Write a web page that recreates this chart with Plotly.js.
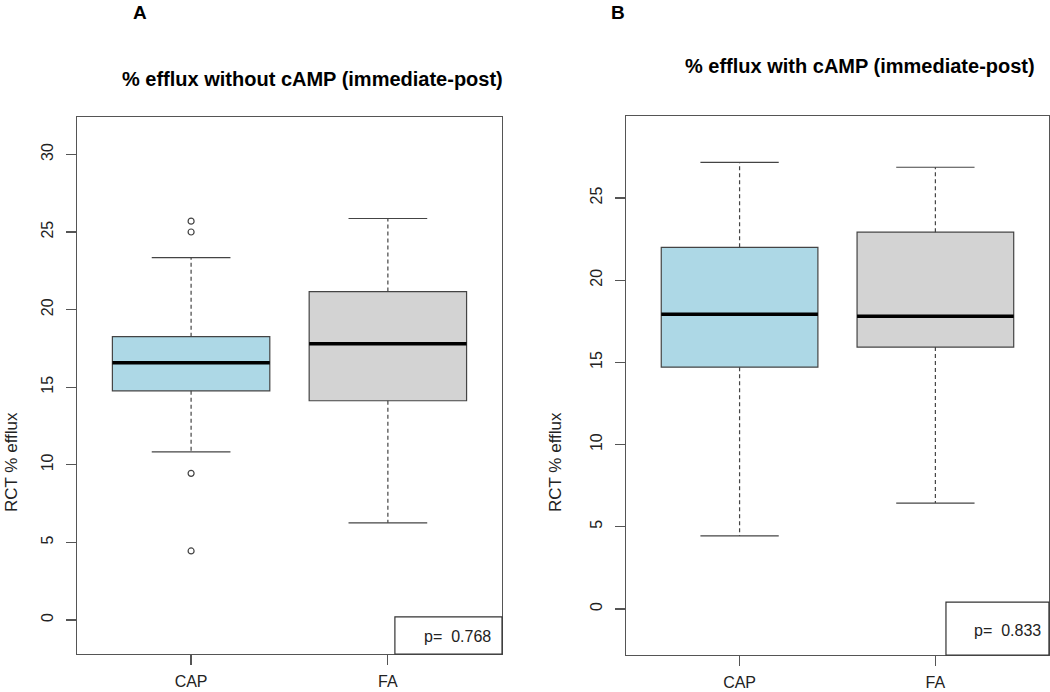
<!DOCTYPE html>
<html>
<head>
<meta charset="utf-8">
<script src="https://cdn.plot.ly/plotly-3.0.1.min.js"></script>
<style>
  html, body { margin: 0; padding: 0; background: #fff; }
  #chart { width: 1050px; height: 692px; }
</style>
</head>
<body>
<div id="chart"></div>
<script>
// groups on the x axis
var groups = ['CAP', 'FA'];
var groupPos = [1, 2];
var boxColors = ['#ADD8E6', '#D3D3D3'];

// panel A: % efflux without cAMP
var noCampQ1 = [14.77, 14.13];
var noCampMed = [16.58, 17.80];
var noCampQ3 = [18.26, 21.16];
var noCampLo = [10.84, 6.26];
var noCampHi = [23.35, 25.87];
var noCampOutCap = [25.7, 25.0, 9.45, 4.45];

// panel B: % efflux with cAMP
var campQ1 = [14.71, 15.93];
var campMed = [17.93, 17.81];
var campQ3 = [22.00, 22.92];
var campLo = [4.44, 6.44];
var campHi = [27.17, 26.87];

var pValues = ['0.768', '0.833'];
var yTicksA = [0, 5, 10, 15, 20, 25, 30];
var yTicksB = [0, 5, 10, 15, 20, 25];

var boxW = 0.8;
var lineCol = '#444';
var font = 'Liberation Sans, Arial, sans-serif';

function panelTraces(q1, med, q3, lo, hi, xa, ya) {
  var out = [];
  for (var i = 0; i < groups.length; i++) {
    var x = groupPos[i];
    out.push({
      type: 'box', x: [x], q1: [q1[i]], median: [med[i]], q3: [q3[i]],
      lowerfence: [q1[i]], upperfence: [q3[i]],
      width: boxW, whiskerwidth: 0,
      fillcolor: boxColors[i], line: {color: lineCol, width: 1.2},
      xaxis: xa, yaxis: ya, hoverinfo: 'skip'
    });
    // dashed whiskers
    out.push({
      type: 'scatter', mode: 'lines', xaxis: xa, yaxis: ya,
      x: [x, x, null, x, x], y: [q3[i], hi[i], null, q1[i], lo[i]],
      line: {color: lineCol, width: 1.2, dash: '4px,3px'}, hoverinfo: 'skip'
    });
    // whisker caps
    out.push({
      type: 'scatter', mode: 'lines', xaxis: xa, yaxis: ya,
      x: [x - boxW / 4, x + boxW / 4, null, x - boxW / 4, x + boxW / 4],
      y: [hi[i], hi[i], null, lo[i], lo[i]],
      line: {color: lineCol, width: 1.2}, hoverinfo: 'skip'
    });
    // thick median
    out.push({
      type: 'scatter', mode: 'lines', xaxis: xa, yaxis: ya,
      x: [x - boxW / 2, x + boxW / 2], y: [med[i], med[i]],
      line: {color: '#000', width: 3.5}, hoverinfo: 'skip'
    });
  }
  return out;
}

var data = panelTraces(noCampQ1, noCampMed, noCampQ3, noCampLo, noCampHi, 'x', 'y')
  .concat(panelTraces(campQ1, campMed, campQ3, campLo, campHi, 'x2', 'y2'));

data.push({
  type: 'scatter', mode: 'markers', xaxis: 'x', yaxis: 'y',
  x: noCampOutCap.map(function () { return groupPos[0]; }), y: noCampOutCap,
  marker: {symbol: 'circle-open', size: 6, color: lineCol, line: {width: 1.2}},
  hoverinfo: 'skip'
});

function xAxis(dom) {
  return {
    domain: dom, range: [0.42, 2.58], tickvals: groupPos, ticktext: groups,
    showline: true, mirror: true, linecolor: '#555', linewidth: 1.2,
    ticks: 'outside', ticklen: 10, tickcolor: '#555', tickwidth: 1.2,
    showgrid: false, zeroline: false, ticklabelstandoff: 3,
    tickfont: {family: font, size: 16, color: '#222'}
  };
}
function yAxis(dom, rng, tv, anchor) {
  return {
    domain: dom, range: rng, tickvals: tv, anchor: anchor, tickangle: -90,
    showline: true, mirror: true, linecolor: '#555', linewidth: 1.2,
    ticks: 'outside', ticklen: 10, tickcolor: '#555', tickwidth: 1.2,
    showgrid: false, zeroline: false, ticklabelstandoff: 6,
    tickfont: {family: font, size: 16, color: '#222'}
  };
}

function txt(s, x, y, size, extra) {
  return Object.assign({
    text: s, xref: 'paper', yref: 'paper', x: x / 1050, y: 1 - y / 692,
    xanchor: 'center', yanchor: 'middle', showarrow: false, borderpad: 0,
    font: {size: size, color: '#000'}
  }, extra || {});
}

var layout = {
  width: 1050, height: 692,
  margin: {l: 0, r: 0, t: 0, b: 0},
  paper_bgcolor: '#fff', plot_bgcolor: '#fff',
  showlegend: false,
  font: {family: font, color: '#222'},
  xaxis: xAxis([0.0733, 0.4781]),
  yaxis: yAxis([0.0549, 0.8309], [-2.19, 32.41], yTicksA, 'x'),
  xaxis2: Object.assign(xAxis([0.5962, 0.999]), {anchor: 'y2'}),
  yaxis2: yAxis([0.0535, 0.8324], [-2.80, 29.99], yTicksB, 'x2'),
  shapes: [
    {type: 'rect', xref: 'x domain', yref: 'y domain', x0: 0.748, x1: 1, y0: 0, y1: 0.069,
     line: {color: '#333', width: 1.2}, fillcolor: '#fff'},
    {type: 'rect', xref: 'x2 domain', yref: 'y2 domain', x0: 0.7565, x1: 1, y0: 0, y1: 0.098,
     line: {color: '#333', width: 1.2}, fillcolor: '#fff'}
  ],
  annotations: [
    txt('<b>A</b>', 140, 12, 19),
    txt('<b>B</b>', 618, 12, 19),
    txt('<b>% efflux without cAMP (immediate-post)</b>', 312, 79, 20),
    txt('<b>% efflux with cAMP (immediate-post)</b>', 860, 66, 20),
    txt('RCT % efflux', 11, 462, 17, {textangle: -90, font: {size: 17, color: '#222'}}),
    txt('RCT % efflux', 555, 462, 17, {textangle: -90, font: {size: 17, color: '#222'}}),
    {text: 'p=  ' + pValues[0], xref: 'x domain', yref: 'y domain', x: 0.979, y: 0.0317,
     xanchor: 'right', yanchor: 'middle', showarrow: false, font: {size: 16, color: '#222'}},
    {text: 'p=  ' + pValues[1], xref: 'x2 domain', yref: 'y2 domain', x: 0.986, y: 0.046,
     xanchor: 'right', yanchor: 'middle', showarrow: false, font: {size: 16, color: '#222'}}
  ]
};

Plotly.newPlot('chart', data, layout, {displayModeBar: false, staticPlot: true});
</script>
</body>
</html>
